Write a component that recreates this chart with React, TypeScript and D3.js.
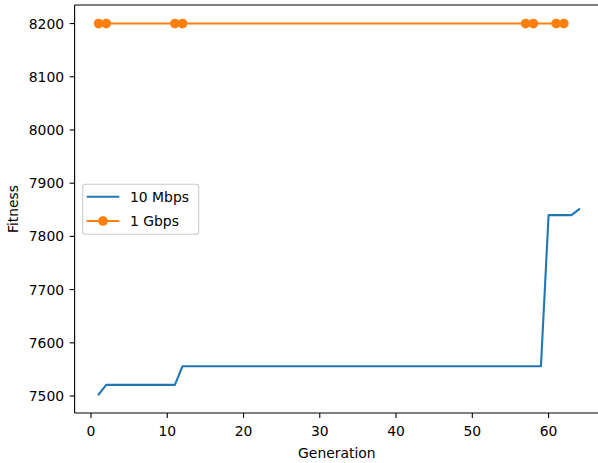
import React from "react";
import * as d3 from "d3";

const blueGen = [1, 2, 11, 12, 59, 60, 63, 64];
const blueFit = [7503, 7521, 7521, 7556, 7556, 7840, 7840, 7851];
const orangeGen = [1, 2, 11, 12, 57, 58, 61, 62];
const orangeFit = [8200, 8200, 8200, 8200, 8200, 8200, 8200, 8200];
const xTicks = [0, 10, 20, 30, 40, 50, 60];
const yTicks = [7500, 7600, 7700, 7800, 7900, 8000, 8100, 8200];
const seriesNames = ["10 Mbps", "1 Gbps"];

const W = 598, H = 463;
const L = 74.6, T = 5, R = 603.1, B = 413;
const FONT = "DejaVu Sans, sans-serif";
const FS = 13.9;
const MR = 4.17;

export default function App() {
  const xMin = 1, xMax = 64;
  const xPad = (xMax - xMin) * 0.05;
  const x = d3.scaleLinear().domain([xMin - xPad, xMax + xPad]).range([L, R]);
  const yMin = d3.min(blueFit)!, yMax = d3.max(orangeFit)!;
  const yPad = (yMax - yMin) * 0.05;
  const y = d3.scaleLinear().domain([yMin - yPad, yMax + yPad]).range([B, T]);

  const line = d3.line<[number, number]>().x((d) => x(d[0])).y((d) => y(d[1]));
  const blue = blueGen.map((g, i) => [g, blueFit[i]] as [number, number]);
  const orange = orangeGen.map((g, i) => [g, orangeFit[i]] as [number, number]);

  const lx = 82.7, ly = 184.3, lw = 116, lh = 50;
  return (
    <div style={{ position: "fixed", left: 0, top: 0 }}>
      <svg width={W} height={H} style={{ display: "block" }} fontFamily={FONT}>
        <rect x={0} y={0} width={W} height={H} fill="white" />
        <path d={line(blue)!} fill="none" stroke="#1f77b4" strokeWidth={2.08} strokeLinejoin="round" strokeLinecap="square" />
        <path d={line(orange)!} fill="none" stroke="#ff7f0e" strokeWidth={2.08} strokeLinejoin="round" strokeLinecap="square" />
        {orange.map((d, i) => (
          <circle key={i} cx={x(d[0])} cy={y(d[1])} r={MR} fill="#ff7f0e" stroke="#ff7f0e" strokeWidth={1.39} />
        ))}
        {/* spines */}
        <g stroke="black" strokeWidth={1.1} fill="none">
          <line x1={L} y1={T} x2={L} y2={B} />
          <line x1={L} y1={B} x2={R} y2={B} />
          <line x1={L} y1={T} x2={R} y2={T} />
          <line x1={R} y1={T} x2={R} y2={B} />
        </g>
        {xTicks.map((t) => (
          <g key={t}>
            <line x1={x(t)} x2={x(t)} y1={B} y2={B + 4.9} stroke="black" strokeWidth={1.1} />
            <text x={x(t)} y={B + 23} fontSize={FS} textAnchor="middle" fill="black">{t}</text>
          </g>
        ))}
        {yTicks.map((t) => (
          <g key={t}>
            <line x1={L - 4.9} x2={L} y1={y(t)} y2={y(t)} stroke="black" strokeWidth={1.1} />
            <text x={L - 10.5} y={y(t)} dy="0.36em" fontSize={FS} textAnchor="end" fill="black">{t}</text>
          </g>
        ))}
        <text x={(L + R) / 2 - 2} y={457.8} fontSize={FS} textAnchor="middle" fill="black">Generation</text>
        <text transform={`translate(${18.3},${(T + B) / 2}) rotate(-90)`} fontSize={FS} textAnchor="middle" fill="black">Fitness</text>
        {/* legend */}
        <rect x={lx} y={ly} width={lw} height={lh} rx={2.8} fill="white" fillOpacity={0.8} stroke="#cccccc" strokeWidth={1.1} />
        <line x1={86.7} x2={119.3} y1={196.7} y2={196.7} stroke="#1f77b4" strokeWidth={2.08} />
        <text x={130} y={196.7} dy="0.36em" fontSize={FS} fill="black">{seriesNames[0]}</text>
        <line x1={86.7} x2={119.3} y1={221} y2={221} stroke="#ff7f0e" strokeWidth={2.08} />
        <circle cx={103} cy={221} r={MR} fill="#ff7f0e" stroke="#ff7f0e" strokeWidth={1.39} />
        <text x={130} y={221} dy="0.36em" fontSize={FS} fill="black">{seriesNames[1]}</text>
      </svg>
    </div>
  );
}
